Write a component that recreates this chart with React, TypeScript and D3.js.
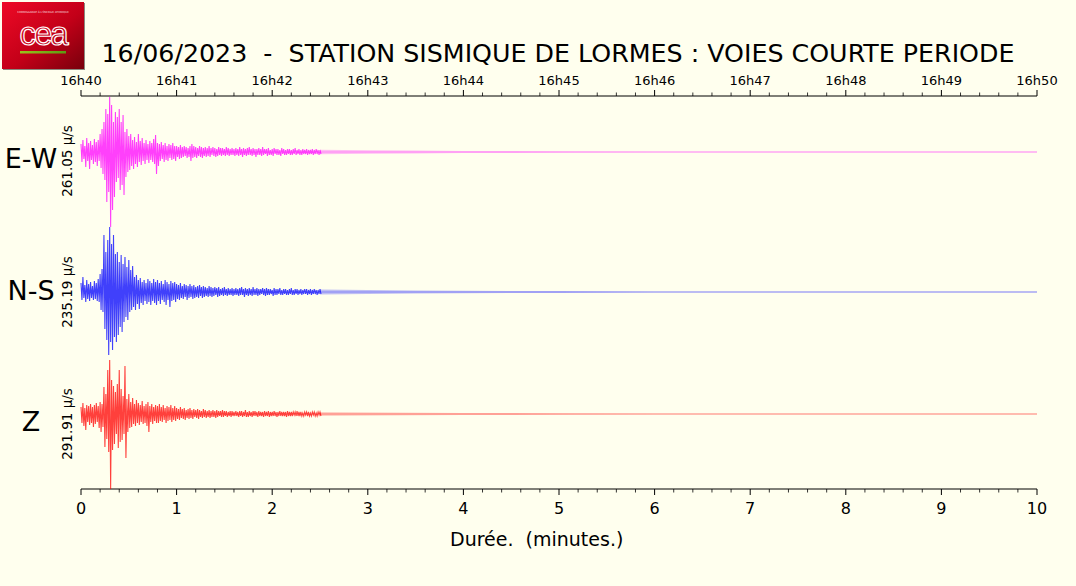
import { useEffect } from 'react'
import * as d3 from 'd3'

// ── Data ─────────────────────────────────────────────────────────────────
const TITLE = '16/06/2023  -  STATION SISMIQUE DE LORMES : VOIES COURTE PERIODE'
const X_LABEL = 'Durée.  (minutes.)'
const TOP_LABELS = ['16h40', '16h41', '16h42', '16h43', '16h44', '16h45', '16h46', '16h47', '16h48', '16h49', '16h50']
const CHANNELS = ['E-W', 'N-S', 'Z']
const AMPLITUDES = ['261.05 µ/s', '235.19 µ/s', '291.91 µ/s']
const COLORS = ['#ff00ff', '#0000ff', '#ff0000']

// dense part: upper / lower peaks every 0.02 min, 0 → 2.5 min (relative amplitude)
const STEP = 0.02
const EW_HI = [8, 12, 6, 14, 9, 11, 7, 13, 10, 12, 18, 23, 30, 43, 38, 55, 47, 30, 40, 35, 43, 30, 37, 20, 23, 16, 18, 12, 15, 10, 18, 11, 14, 9, 12, 8, 11, 9, 13, 17, 9,
  8, 10, 7, 9, 6, 8, 7, 9, 6,
  6, 5, 7, 5, 6, 5, 4, 6, 8, 6, 5, 4, 6, 5, 4, 5, 4, 6, 4, 5, 4, 3, 5, 4, 4, 3, 5, 4, 3, 4, 3,
  4, 3, 5, 3, 4, 3, 4, 5, 3, 4, 3, 3, 4, 3, 5, 3, 3, 4, 2, 3, 4, 3, 3, 2, 4, 3, 2, 3, 3, 2, 3, 4, 2, 3, 2, 3, 2, 3, 2, 2, 3, 2, 3, 2, 2]
const EW_LO = [-10, -7, -15, -9, -17, -8, -12, -10, -14, -9, -16, -22, -28, -50, -40, -75, -58, -45, -30, -26, -38, -33, -43, -25, -20, -18, -14, -17, -12, -15, -10, -13, -9, -12, -8, -11, -8, -10, -12, -22, -14,
  -9, -7, -10, -8, -9, -6, -8, -7, -9,
  -5, -7, -6, -5, -4, -6, -5, -9, -6, -5, -6, -4, -5, -6, -4, -5, -4, -5, -3, -4, -5, -4, -3, -4, -3, -4, -3, -4, -3, -3, -4,
  -3, -4, -3, -5, -3, -4, -3, -3, -4, -3, -5, -3, -3, -4, -3, -2, -4, -3, -3, -4, -2, -3, -3, -4, -2, -3, -3, -2, -3, -3, -2, -3, -2, -3, -3, -2, -2, -3, -2, -2, -3, -2, -2, -3, -2]
const NS_HI = [9, 15, 7, 12, 8, 10, 6, 11, 9, 13, 18, 23, 57, 40, 52, 65, 48, 57, 38, 40, 30, 37, 28, 35, 25, 32, 22, 26, 15, 17, 12,
  14, 10, 12, 9, 13, 11, 9, 13, 10,
  12, 9, 11, 8, 12, 10, 8, 11, 9, 10,
  8, 7, 9, 6, 8, 7, 6, 8, 6, 7, 5, 6, 7, 5, 6, 5, 4, 6, 5, 4, 5, 4, 5, 3, 4, 5, 3, 4, 3, 4, 3,
  4, 3, 4, 5, 3, 4, 3, 4, 3, 5, 3, 4, 3, 3, 4, 3, 4, 3, 3, 2, 4, 3, 3, 4, 2, 3, 3, 2, 3, 4, 2, 3, 3, 2, 3, 2, 3, 3, 2, 3, 2, 3, 2, 2, 3]
const NS_LO = [-8, -6, -10, -7, -9, -6, -8, -7, -9, -10, -18, -20, -37, -48, -63, -50, -58, -45, -50, -43, -35, -40, -30, -25, -28, -20, -18, -15, -18, -12, -17,
  -11, -13, -9, -12, -10, -13, -9, -11, -13,
  -9, -12, -8, -10, -13, -8, -15, -9, -8, -10,
  -7, -8, -6, -7, -5, -8, -6, -5, -7, -6, -5, -6, -4, -6, -5, -4, -5, -4, -5, -4, -3, -5, -4, -3, -4, -3, -4, -3, -3, -4, -3,
  -3, -4, -3, -3, -5, -3, -4, -3, -4, -3, -3, -4, -3, -2, -3, -4, -3, -3, -2, -4, -3, -3, -2, -3, -3, -2, -3, -3, -2, -3, -3, -2, -3, -2, -3, -2, -2, -3, -2, -3, -2, -2, -3, -2, -2]
const Z_HI = [7, 11, 6, 9, 8, 10, 7, 9, 11, 8, 12, 10, 27, 20, 44, 54, 34, 28, 22, 30, 44, 25, 18, 48, 15, 20, 12, 16, 10, 14, 11,
  9, 13, 8, 10, 12, 8, 10, 7, 9,
  8, 10, 7, 9, 6, 8, 7, 9, 6, 8,
  6, 5, 7, 5, 6, 4, 5, 6, 4, 5, 4, 5, 4, 3, 5, 4, 3, 4, 3, 4, 3, 4, 3, 3, 4, 3, 3, 2, 3, 3, 2,
  3, 2, 3, 3, 2, 4, 2, 3, 2, 3, 3, 2, 3, 2, 2, 3, 2, 3, 2, 2, 3, 2, 2, 3, 2, 2, 2, 3, 2, 2, 2, 2, 3, 2, 2, 1, 2, 2, 2, 1, 2, 2, 1, 2, 2]
const Z_LO = [-9, -12, -16, -8, -11, -9, -13, -10, -8, -14, -18, -13, -33, -25, -38, -75, -36, -30, -20, -34, -28, -26, -20, -44, -18, -14, -13, -10, -12, -9, -11,
  -8, -10, -9, -12, -18, -8, -10, -7, -9,
  -9, -7, -8, -6, -9, -7, -6, -8, -6, -7,
  -5, -6, -4, -5, -6, -4, -5, -4, -5, -3, -4, -5, -3, -4, -3, -4, -3, -4, -3, -3, -4, -3, -2, -3, -3, -2, -3, -2, -3, -2, -2,
  -2, -3, -2, -3, -2, -3, -3, -2, -3, -2, -2, -3, -2, -2, -3, -2, -2, -3, -2, -2, -2, -3, -2, -2, -2, -2, -3, -2, -2, -2, -1, -2, -2, -2, -2, -2, -1, -2, -2, -2, -1, -2, -2, -1, -2]

// coda: envelope half-width from 2.5 min to the end
const TAIL_T = [2.5, 3, 3.5, 4, 4.5, 5, 6, 7, 8, 10]
const EW_TAIL = [2.2, 1.8, 1.4, 1.1, 0.9, 0.7, 0.5, 0.4, 0.4, 0.4]
const NS_TAIL = [2.5, 2.0, 1.6, 1.3, 1.1, 0.9, 0.6, 0.5, 0.4, 0.4]
const Z_TAIL = [1.8, 1.5, 1.3, 1.1, 0.9, 0.7, 0.5, 0.4, 0.4, 0.4]

const HI = [EW_HI, NS_HI, Z_HI]
const LO = [EW_LO, NS_LO, Z_LO]
const TAIL = [EW_TAIL, NS_TAIL, Z_TAIL]

// ── Layout ─────────────────────────────────────────────────────────────────
const W = 1076, H = 586
const BG = '#ffffee'
const FONT = '"DejaVu Sans", Verdana, sans-serif'
const PLOT = { left: 81, right: 1037, top: 96, bottom: 489 }
const BASELINES = [152, 292, 414]
const HALF = 75 // px for 75 units of relative amplitude

export default function App() {
  useEffect(() => {
    document.body.style.margin = '0'
    document.body.style.background = BG
  }, [])

  const x = d3.scaleLinear().domain([0, 10]).range([PLOT.left, PLOT.right])
  const major = x.ticks(10)
  const minor = x.ticks(50).filter((t) => Math.abs(t - Math.round(t)) > 1e-6)

  const traces = CHANNELS.map((_, c) => {
    const y = d3.scaleLinear().domain([-75, 75]).range([BASELINES[c] + HALF, BASELINES[c] - HALF])
    const pts: [number, number][] = []
    HI[c].forEach((h, i) => {
      pts.push([i * STEP, h])
      pts.push([i * STEP + STEP / 2, LO[c][i]])
    })
    const line = d3.line<[number, number]>().x((d) => x(d[0])).y((d) => y(d[1]))
    const band = d3.area<number>()
      .x((_, i) => x(TAIL_T[i]))
      .y0((a) => y(-a))
      .y1((a) => y(a))
    const center = d3.line<number>().x((t) => x(t)).y(() => y(0))
    return { dense: line(pts), band: band(TAIL[c]), center: center([TAIL_T[0], TAIL_T[TAIL_T.length - 1]]) }
  })

  return (
    <svg width={W} height={H} style={{ position: 'absolute', left: 0, top: 0, display: 'block' }} fontFamily={FONT}>
      <defs>
        <linearGradient id="ceaRed" x1="0" y1="0" x2="1" y2="1">
          <stop offset="0%" stopColor="#ee0a26" />
          <stop offset="55%" stopColor="#c30018" />
          <stop offset="100%" stopColor="#78000c" />
        </linearGradient>
        <linearGradient id="ceaGreen" x1="0" y1="0" x2="1" y2="0">
          <stop offset="0%" stopColor="#9ac31c" />
          <stop offset="100%" stopColor="#5c9a12" />
        </linearGradient>
        <clipPath id="plotClip">
          <rect x={PLOT.left - 1} y={PLOT.top} width={PLOT.right - PLOT.left + 2} height={PLOT.bottom - PLOT.top} />
        </clipPath>
      </defs>
      <rect width={W} height={H} fill={BG} />

      {/* logo */}
      <rect x={3} y={3} width={82} height={67} fill="#8a8a80" />
      <rect x={2} y={2} width={82} height={67} fill="url(#ceaRed)" />
      <text x={43} y={13} fontSize={2.6} fill="#fff" textAnchor="middle" opacity={0.8}>COMMISSARIAT À L'ÉNERGIE ATOMIQUE</text>
      <text x={43} y={45} fontSize={33} fill="none" stroke="#fff" strokeWidth={1.2} textAnchor="middle" fontFamily='"Liberation Sans", Arial, sans-serif' letterSpacing={-2}>cea</text>
      <rect x={20} y={51} width={46} height={2.5} fill="url(#ceaGreen)" />

      {/* title */}
      <text x={558} y={62} fontSize={25.3} textAnchor="middle" fill="#000" style={{ whiteSpace: 'pre' }}>{TITLE}</text>

      {/* top axis */}
      <line x1={PLOT.left} x2={PLOT.right} y1={PLOT.top} y2={PLOT.top} stroke="#000" strokeWidth={1} />
      {major.map((t, i) => (
        <g key={`tm${t}`}>
          <line x1={x(t)} x2={x(t)} y1={PLOT.top} y2={PLOT.top - 6} stroke="#000" />
          <text x={x(t)} y={85} fontSize={13} textAnchor="middle">{TOP_LABELS[i]}</text>
        </g>
      ))}
      {minor.map((t) => (
        <line key={`tn${t}`} x1={x(t)} x2={x(t)} y1={PLOT.top} y2={PLOT.top - 3.5} stroke="#000" strokeWidth={0.8} />
      ))}

      {/* bottom axis */}
      <line x1={PLOT.left} x2={PLOT.right} y1={PLOT.bottom} y2={PLOT.bottom} stroke="#000" strokeWidth={1} />
      {major.map((t) => (
        <g key={`bm${t}`}>
          <line x1={x(t)} x2={x(t)} y1={PLOT.bottom} y2={PLOT.bottom + 6} stroke="#000" />
          <text x={x(t)} y={514} fontSize={16} textAnchor="middle">{t}</text>
        </g>
      ))}
      {minor.map((t) => (
        <line key={`bn${t}`} x1={x(t)} x2={x(t)} y1={PLOT.bottom} y2={PLOT.bottom + 3.5} stroke="#000" strokeWidth={0.8} />
      ))}
      <text x={450} y={546} fontSize={19} style={{ whiteSpace: 'pre' }}>{X_LABEL}</text>

      {/* channel labels */}
      {CHANNELS.map((name, c) => (
        <g key={name}>
          <text x={31} y={BASELINES[c] + [16, 8, 17][c]} fontSize={27} textAnchor="middle">{name}</text>
          <text transform={`translate(72,${BASELINES[c] + [9, 0, 10][c]}) rotate(-90)`} fontSize={13.5} textAnchor="middle">{AMPLITUDES[c]}</text>
        </g>
      ))}

      {/* traces */}
      <g clipPath="url(#plotClip)">
        {traces.map((tr, c) => (
          <g key={CHANNELS[c]}>
            <path d={tr.band ?? ''} fill={COLORS[c]} fillOpacity={0.25} stroke="none" />
            <path d={tr.center ?? ''} stroke={COLORS[c]} strokeOpacity={0.4} strokeWidth={0.8} fill="none" />
            <path d={tr.dense ?? ''} stroke={COLORS[c]} strokeOpacity={0.75} strokeWidth={1.1} fill="none" />
          </g>
        ))}
      </g>
    </svg>
  )
}
